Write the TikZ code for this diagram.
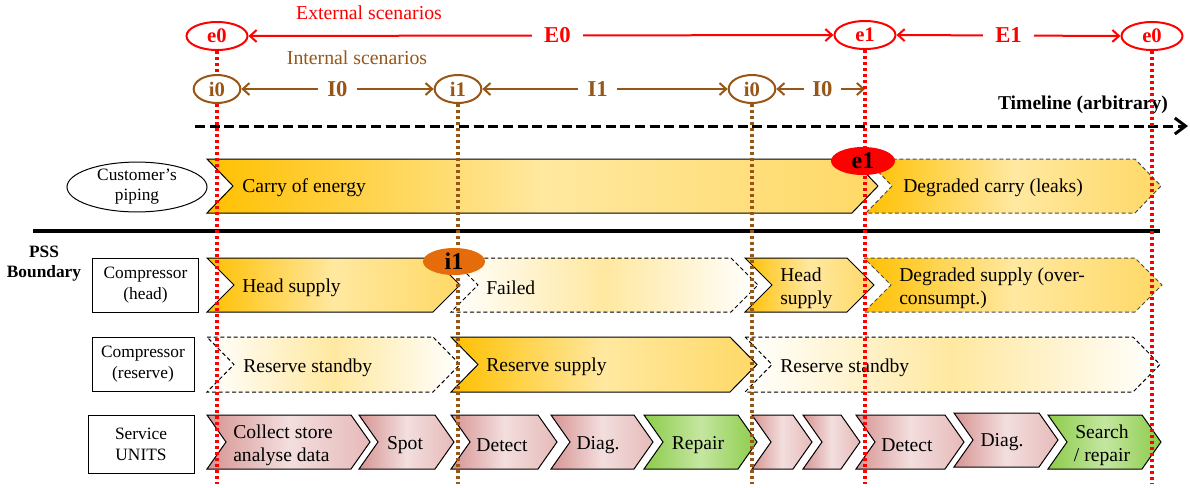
\documentclass[tikz,border=0pt]{standalone}
\usepackage{fontspec}
\setmainfont{Liberation Serif}
\usepackage{tikz}
\usetikzlibrary{arrows.meta}
\usetikzlibrary{shapes.geometric}

\definecolor{scenred}{RGB}{255,0,0}
\definecolor{scenbrown}{RGB}{152,86,22}
\definecolor{gold}{RGB}{255,192,0}
\definecolor{paleyellow}{RGB}{255,232,160}
\definecolor{midyellow}{RGB}{255,217,102}
\definecolor{rosedark}{RGB}{214,148,146}
\definecolor{roselight}{RGB}{243,222,222}
\definecolor{rosemid}{RGB}{230,186,185}
\definecolor{leafdark}{RGB}{140,204,74}
\definecolor{leaflight}{RGB}{196,230,160}
\definecolor{badgeorange}{RGB}{228,108,10}

\tikzset{
  extscen/.style={ellipse, draw=scenred, line width=1.5pt, text=scenred, inner sep=0pt,
    minimum width=45.75pt, minimum height=21pt, font=\bfseries\fontsize{15.5}{15.5}\selectfont},
  intscen/.style={ellipse, draw=scenbrown, line width=1.5pt, text=scenbrown, inner sep=0pt,
    minimum width=35pt, minimum height=21pt, font=\bfseries\fontsize{15.5}{15.5}\selectfont},
  extspan/.style={draw=scenred, line width=1.5pt, <->, >={Straight Barb[length=5pt,width=9pt]}},
  intspan/.style={draw=scenbrown, line width=1.5pt, <->, >={Straight Barb[length=5pt,width=9pt]}},
  spanlabel/.style={fill=white, inner ysep=2pt, font=\bfseries\fontsize{17}{17}\selectfont},
  reddots/.style={draw=scenred, line width=2.5pt, dash pattern=on 2.3pt off 2.2pt},
  browndots/.style={draw=scenbrown, line width=2.5pt, dash pattern=on 2.3pt off 2.2pt},
  solidchev/.style={draw=black, line width=0.75pt, left color=gold, right color=midyellow, middle color=paleyellow},
  dashchev/.style={draw=black!70, line width=0.75pt, dash pattern=on 3pt off 2pt, left color=gold, right color=midyellow, middle color=paleyellow},
  idlechev/.style={draw=black, line width=0.75pt, dash pattern=on 3pt off 2pt, left color=white, right color=white, middle color=paleyellow},
  servchev/.style={draw=black, line width=0.75pt, left color=rosedark, right color=rosemid, middle color=roselight},
  fixchev/.style={draw=black, line width=0.75pt, left color=leafdark, right color=leafdark, middle color=leaflight},
  chevtext/.style={anchor=west, inner sep=0pt, align=left, font=\fontsize{14.7}{17.5}\selectfont},
  servtext/.style={inner sep=0pt, align=center, font=\fontsize{14.7}{17.5}\selectfont},
  rowlabel/.style={draw, line width=0.75pt, inner sep=0pt, align=center, font=\fontsize{13}{15.75}\selectfont},
  badge/.style={ellipse, inner sep=0pt, font=\bfseries\fontsize{18}{18}\selectfont},
}

\begin{document}
\begin{tikzpicture}[x=0.75pt,y=0.75pt,yscale=-1,xscale=1]
    \useasboundingbox (0,0) rectangle (1190,487);

    % Scenario headers
    \node [text=scenred, font=\fontsize{14.85}{14.85}\selectfont] (exthead) at (369,13) {External scenarios};
    \node [text=scenbrown, font=\fontsize{14.85}{14.85}\selectfont] (inthead) at (357,58) {Internal scenarios};

    % External scenario nodes
    \node [extscen] (e0L) at (217,36) {e0};
    \node [extscen] (e1) at (865,35) {e1};
    \node [extscen] (e0R) at (1152,36) {e0};
    % Internal scenario nodes
    \node [intscen] (i0L) at (217,89) {i0};
    \node [intscen] (i1) at (458,89) {i1};
    \node [intscen] (i0R) at (752,89) {i0};

    % Spans
    \draw [extspan] (e0L.east) -- (e1.west) node [spanlabel, text=scenred, inner xsep=9pt, pos=0.528] (E0) {E0};
    \draw [extspan] (e1.east) -- (e0R.west) node [spanlabel, text=scenred, inner xsep=9pt, pos=0.5] (E1) {E1};
    \draw [intspan] (i0L.east) -- (i1.west) node [spanlabel, text=scenbrown, inner xsep=7pt, pos=0.5] (I0a) {I0};
    \draw [intspan] (i1.east) -- (i0R.west) node [spanlabel, text=scenbrown, inner xsep=7pt, pos=0.47] (I1) {I1};
    \draw [intspan] (i0R.east) -- (e1.south |- i0R.east) node [spanlabel, text=scenbrown, inner xsep=6pt, pos=0.52] (I0b) {I0};

    % Timeline
    \coordinate (tlstart) at (195,126);
    \coordinate (tlend) at (1188,126);
    \draw [line width=2.25pt, dash pattern=on 7.5pt off 3.5pt, -{Straight Barb[length=8pt,width=12pt]}] (tlstart) -- (tlend);
    \node [font=\bfseries\fontsize{14.7}{14.7}\selectfont] (tltext) at (1083,105) {Timeline (arbitrary)};

    % Boundary line
    \coordinate (bndL) at (33,231);
    \coordinate (bndR) at (1160,231);
    \draw [line width=2.5pt] (bndL) -- (bndR);
    \node [align=center, font=\bfseries\fontsize{13}{15}\selectfont] (pss) at (44,264) {PSS\\Boundary};

    % Row labels
    \node [ellipse, draw, line width=0.75pt, inner sep=0pt, minimum width=105pt, minimum height=35pt, align=center, font=\fontsize{13}{15}\selectfont] (piping) at (137,187) {Customer’s\\piping};
    \node [rowlabel, minimum width=80pt, minimum height=40.5pt] (headbox) at (145.5,285) {Compressor\\(head)};
    \node [rowlabel, minimum width=76.5pt, minimum height=41pt] (resbox) at (143,364.5) {Compressor\\(reserve)};
    \node [rowlabel, minimum width=79.5pt, minimum height=44pt] (servbox) at (141,444.5) {Service\\UNITS};

    %Shape: Chevron [id:carry]
    \draw [solidchev] (207,159) -- (852,159) -- (878,186) -- (852,213) -- (207,213) -- (233,186) -- cycle ;
    %Shape: Chevron [id:degcarry]
    \draw [dashchev] (866,159) -- (1135,159) -- (1161,186) -- (1135,213) -- (866,213) -- (892,186) -- cycle ;

    %Shape: Chevron [id:head]
    \draw [solidchev] (207,258) -- (433,258) -- (460,285) -- (433,312) -- (207,312) -- (234,285) -- cycle ;
    %Shape: Chevron [id:failed]
    \draw [idlechev] (451,258) -- (731,258) -- (758,285) -- (731,312) -- (451,312) -- (478,285) -- cycle ;
    %Shape: Chevron [id:head2]
    \draw [solidchev] (745,258) -- (847,258) -- (874,285) -- (847,312) -- (745,312) -- (772,285) -- cycle ;
    %Shape: Chevron [id:degsupply]
    \draw [dashchev] (864,258) -- (1135,258) -- (1162,285) -- (1135,312) -- (864,312) -- (891,285) -- cycle ;

    %Shape: Chevron [id:standby]
    \draw [idlechev] (207,337) -- (433,337) -- (460,364.5) -- (433,392) -- (207,392) -- (234,364.5) -- cycle ;
    %Shape: Chevron [id:ressupply]
    \draw [solidchev] (451,337) -- (730,337) -- (757,364.5) -- (730,392) -- (451,392) -- (478,364.5) -- cycle ;
    %Shape: Chevron [id:standby2]
    \draw [idlechev] (745,337) -- (1133,337) -- (1160,364.5) -- (1133,392) -- (745,392) -- (772,364.5) -- cycle ;

    %Shape: Chevron [id:collect]
    \draw [servchev] (207,415) -- (351,415) -- (370,442) -- (351,469) -- (207,469) -- (226,442) -- cycle ;
    %Shape: Chevron [id:spot]
    \draw [servchev] (359,415) -- (435,415) -- (454,442) -- (435,469) -- (359,469) -- (378,442) -- cycle ;
    %Shape: Chevron [id:detect]
    \draw [servchev] (451,415) -- (538,415) -- (557,442) -- (538,469) -- (451,469) -- (470,442) -- cycle ;
    %Shape: Chevron [id:diag]
    \draw [servchev] (551,415) -- (634,415) -- (653,442) -- (634,469) -- (551,469) -- (570,442) -- cycle ;
    %Shape: Chevron [id:repair]
    \draw [fixchev] (644,415) -- (738,415) -- (757,442) -- (738,469) -- (644,469) -- (663,442) -- cycle ;
    %Shape: Chevron [id:blank1]
    \draw [servchev] (752,415) -- (793,415) -- (812,442) -- (793,469) -- (752,469) -- (771,442) -- cycle ;
    %Shape: Chevron [id:blank2]
    \draw [servchev] (803,415) -- (841,415) -- (860,442) -- (841,469) -- (803,469) -- (822,442) -- cycle ;
    %Shape: Chevron [id:detect2]
    \draw [servchev] (856,415) -- (945,415) -- (964,442) -- (945,469) -- (856,469) -- (875,442) -- cycle ;
    %Shape: Chevron [id:diag2]
    \draw [servchev] (954,413) -- (1039,413) -- (1058,440) -- (1039,467) -- (954,467) -- (973,440) -- cycle ;
    %Shape: Chevron [id:search]
    \draw [fixchev] (1048,415) -- (1142,415) -- (1161,442) -- (1142,469) -- (1048,469) -- (1067,442) -- cycle ;

    % Chevron texts
    \node [chevtext] (carrytxt) at (242,188) {Carry of energy};
    \node [chevtext] (degcarrytxt) at (903,188) {Degraded carry (leaks)};
    \node [chevtext] (headtxt) at (242,288) {Head supply};
    \node [chevtext] (failedtxt) at (486,288) {Failed};
    \node [chevtext] (head2txt) at (780,288) {Head\\supply};
    \node [chevtext] (degsupplytxt) at (899,288) {Degraded supply (over-\\consumpt.)};
    \node [chevtext] (standbytxt) at (243,368) {Reserve standby};
    \node [chevtext] (ressupplytxt) at (486,367) {Reserve supply};
    \node [chevtext] (standby2txt) at (780,368) {Reserve standby};
    \node [chevtext] (collecttxt) at (233,445) {Collect store\\analyse data};
    \node [servtext] (spottxt) at (405,445) {Spot};
    \node [servtext] (detecttxt) at (502,445) {Detect};
    \node [servtext] (diagtxt) at (598,445) {Diag.};
    \node [servtext] (repairtxt) at (698,445) {Repair};
    \node [servtext] (detect2txt) at (907,445) {Detect};
    \node [servtext] (diag2txt) at (1002,442) {Diag.};
    \node [servtext] (searchtxt) at (1102,445) {Search\\/ repair};

    % Scenario change lines
    \coordinate (botline) at (0,484);
    \draw [reddots] (e0L.south) -- (i0L.north);
    \draw [reddots] (i0L.south) -- (i0L.south |- botline);
    \draw [reddots] (e1.south) -- (e1.south |- botline);
    \draw [reddots] (e0R.south) -- (e0R.south |- botline);
    \draw [browndots] (i1.south) -- (i1.south |- botline);
    \draw [browndots] (i0R.south) -- (i0R.south |- botline);

    % Event badges
    \node [badge, fill=scenred, minimum width=48pt, minimum height=21pt] (e1badge) at (863,161) {e1};
    \node [badge, fill=badgeorange, minimum width=46.5pt, minimum height=20.25pt] (i1badge) at (454,261.5) {i1};

\end{tikzpicture}
\end{document}
